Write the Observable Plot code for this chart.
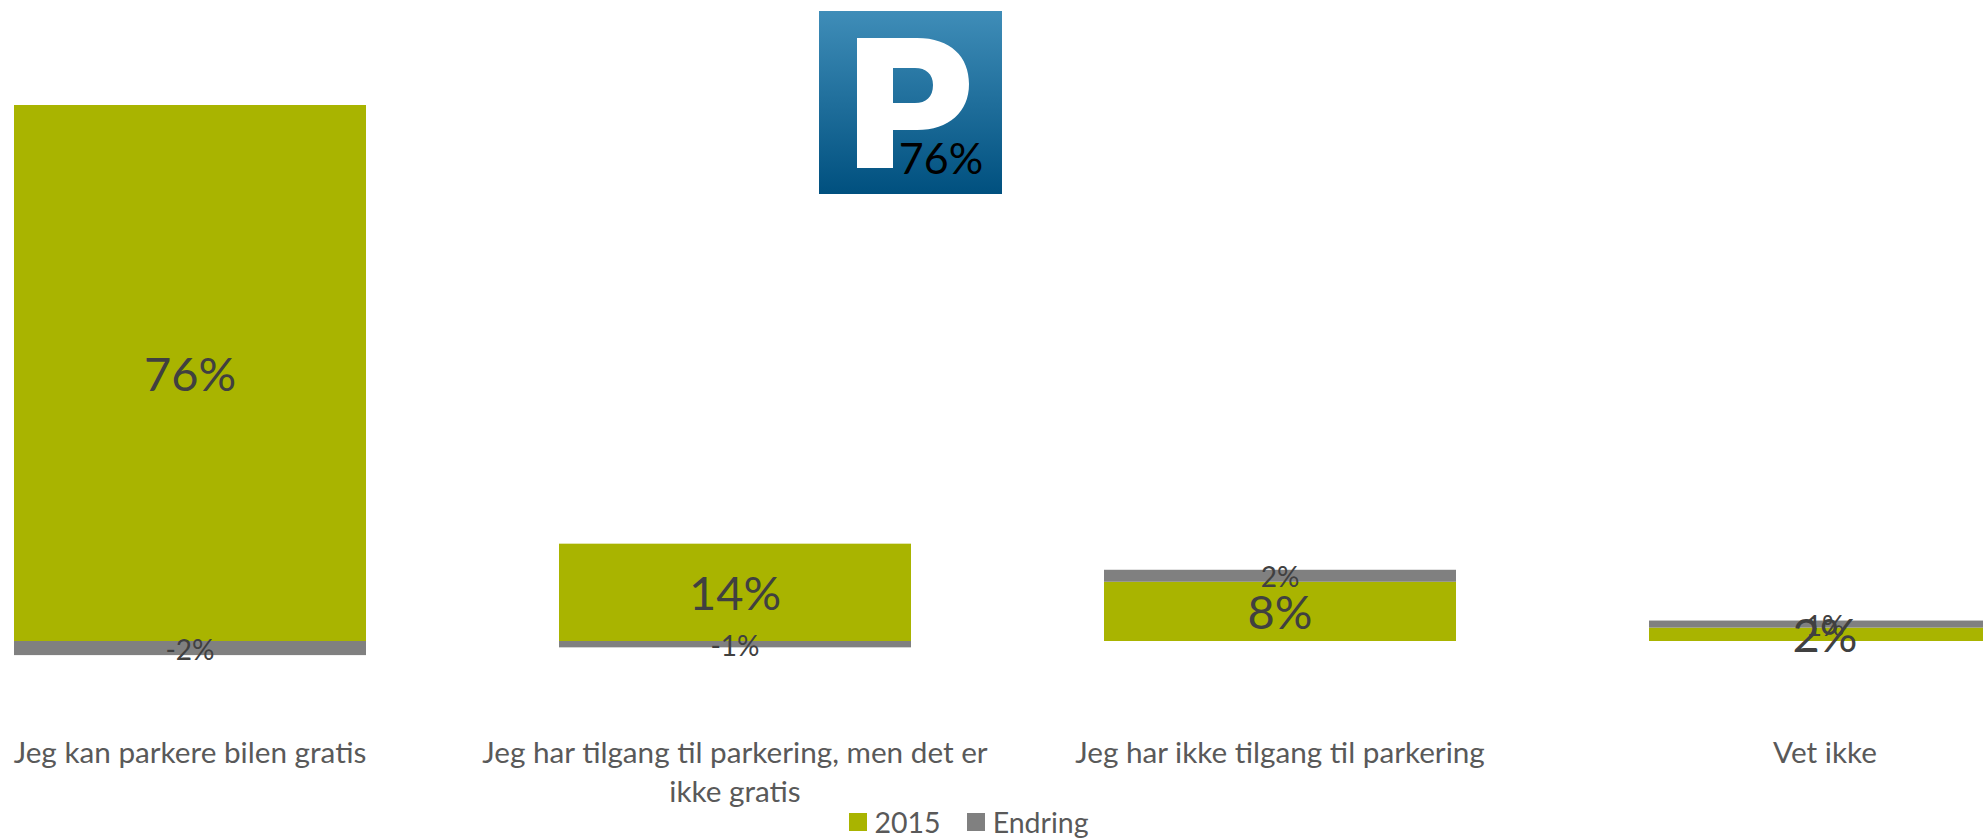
<!DOCTYPE html>
<html><head><meta charset="utf-8">
<script src="https://cdn.jsdelivr.net/npm/d3@7"></script>
<script src="https://cdn.jsdelivr.net/npm/@observablehq/plot@0.6"></script>
<style>
html,body{margin:0;padding:0;background:#fff;overflow:hidden;width:1983px;height:839px;font-family:Lato,sans-serif}
#wrap{position:relative;width:1983px;height:839px}
#logo{position:absolute;left:819px;top:11px;width:183px;height:183px}
#legend{position:absolute;left:-23px;top:805px;width:1983px;display:flex;justify-content:center}
#legend > *{margin:0!important;}
#legend span{margin-right:26px!important}
#legend span:last-child{margin-right:0!important}
#legend svg{margin-right:8px!important}
</style></head><body>
<div id="wrap"><div id="chart"></div>
<svg id="logo" viewBox="0 0 183 183" xmlns="http://www.w3.org/2000/svg">
<defs><linearGradient id="g" x1="0" y1="0" x2="0" y2="1"><stop offset="0" stop-color="#3f8db8"/><stop offset="1" stop-color="#00507f"/></linearGradient></defs>
<rect width="183" height="183" fill="url(#g)"/>
<path fill="#fff" fill-rule="evenodd" d="M38 27H98C132 27 150 46 150 73C150 101 130 119 98 119H74V157H38ZM74 57V92H96C107 92 114 86 114 74C114 63 107 57 96 57Z"/>
<text id="logoText" x="122" y="163" text-anchor="middle" font-family="Lato" font-size="43" fill="#000"></text>
</svg>
<div id="legend"></div></div>
<script>
const categories = ["Jeg kan parkere bilen gratis","Jeg har tilgang til parkering, men det er ikke gratis","Jeg har ikke tilgang til parkering","Vet ikke"];
const seriesNames = ["2015","Endring"];
const values2015 = [76,13.8,8.4,1.9];
const valuesEndring = [-2,-0.9,1.7,1];
const colors = ["#a9b400","#808080"];
const rows = [];
seriesNames.forEach((s,j)=>categories.forEach((c,i)=>rows.push({category:c,series:s,value:(j?valuesEndring:values2015)[i]})));
const pct = d => Math.round(d.value)+"%";
const stack = o => Plot.stackY({x:"category",y:"value",z:"series",...o});
const chart = Plot.plot({
  width:1983,height:839,marginTop:0,marginLeft:0,marginRight:0,marginBottom:104,
  style:{fontFamily:"Lato, sans-serif",background:"transparent"},
  x:{domain:categories,range:[-178.9,2194.1],padding:0.354,label:null},
  y:{domain:[0,76],range:[641,105],axis:null},
  color:{domain:seriesNames,range:colors},
  marks:[
    Plot.barY(rows,stack({fill:"series"})),
    Plot.text(rows,stack({text:pct,fill:"#404040",fontSize:d=>d.series==="2015"?47:28,dy:2,dx:-0.5})),
    Plot.axisX({anchor:"bottom",tickSize:0,tickPadding:0,fontSize:29.7,lineWidth:21,lineHeight:1.31,label:null,fill:"#595959",dy:0,dx:-0.5})
  ]
});
document.getElementById("chart").appendChild(chart);
document.getElementById("logoText").textContent = Math.round(values2015[0])+"%";
const lg = chart.legend("color",{swatchSize:18,style:{fontFamily:"Lato, sans-serif",fontSize:"28.5px",color:"#595959"}});
document.getElementById("legend").appendChild(lg);
</script></body></html>
